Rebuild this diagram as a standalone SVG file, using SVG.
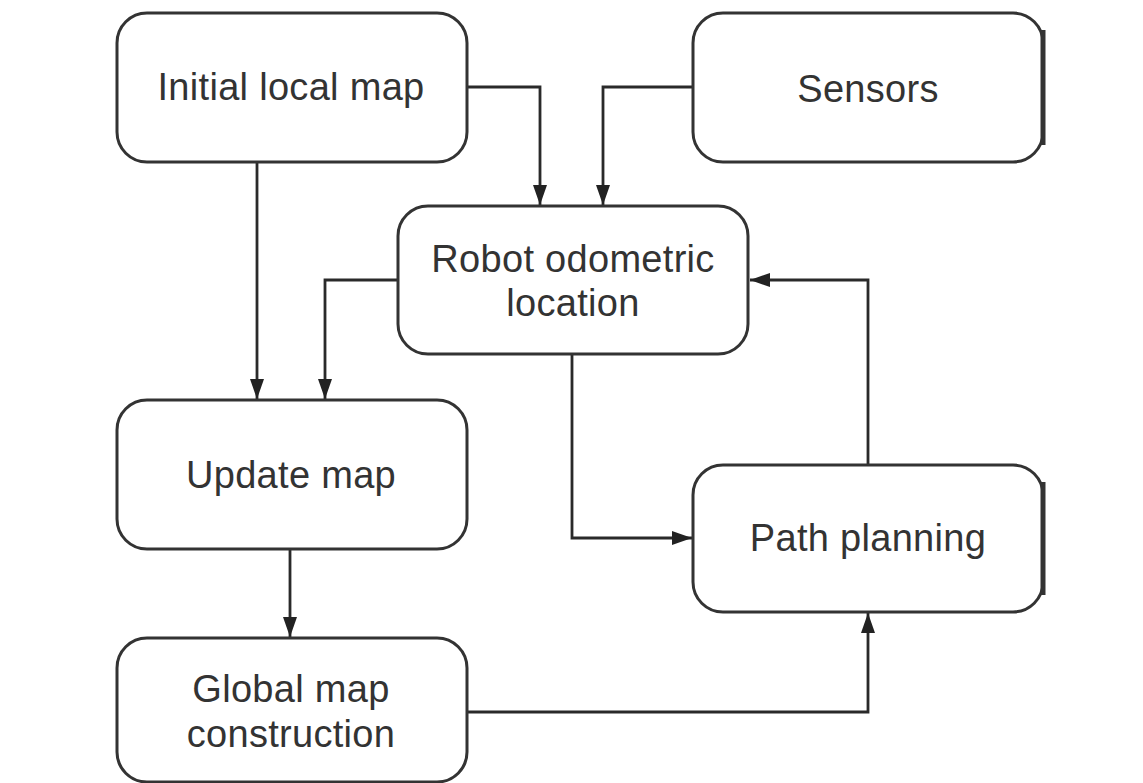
<svg xmlns="http://www.w3.org/2000/svg" width="1143" height="783" viewBox="0 0 1143 783">
<style>
.box{fill:#fff;stroke:#333;stroke-width:3}
.lbl{font-family:"Liberation Sans",Arial,sans-serif;font-size:38px;letter-spacing:0.3px;fill:#333;text-anchor:middle}
.con{fill:none;stroke:#2a2a2a;stroke-width:2.8}
</style>
<defs>
<marker id="arr" viewBox="0 0 20 14" refX="20" refY="7" markerWidth="20" markerHeight="14" markerUnits="userSpaceOnUse" orient="auto">
<path d="M0,0 L20,7 L0,14 z" fill="#222"/>
</marker>
</defs>
<rect width="1143" height="783" fill="#fff"/>
<g id="connectors">
<path class="con" d="M468,87 H540 V205" marker-end="url(#arr)"/>
<path class="con" d="M693,87 H603 V205" marker-end="url(#arr)"/>
<path class="con" d="M257,162 V399" marker-end="url(#arr)"/>
<path class="con" d="M398,280 H325 V399" marker-end="url(#arr)"/>
<path class="con" d="M572,354 V538 H692" marker-end="url(#arr)"/>
<path class="con" d="M868,465 V280 H750" marker-end="url(#arr)"/>
<path class="con" d="M290,549 V637" marker-end="url(#arr)"/>
<path class="con" d="M468,712 H868 V613" marker-end="url(#arr)"/>
</g>
<g id="initial-local-map">
<rect class="box" x="117" y="13" width="350" height="149" rx="30"/>
<text class="lbl" x="291" y="100">Initial local map</text>
</g>
<g id="sensors">
<rect class="box" x="693" y="13" width="350" height="149" rx="30"/>
<line x1="1043" y1="30" x2="1043" y2="145" stroke="#333" stroke-width="5"/>
<text class="lbl" x="868" y="102">Sensors</text>
</g>
<g id="robot-odometric-location">
<rect class="box" x="398" y="206" width="350" height="148" rx="30"/>
<text class="lbl" x="573" y="272">Robot odometric</text>
<text class="lbl" x="573" y="316">location</text>
</g>
<g id="update-map">
<rect class="box" x="117" y="400" width="350" height="149" rx="30"/>
<text class="lbl" x="291" y="488">Update map</text>
</g>
<g id="path-planning">
<rect class="box" x="693" y="465" width="350" height="147" rx="30"/>
<line x1="1043" y1="482" x2="1043" y2="595" stroke="#333" stroke-width="5"/>
<text class="lbl" x="868" y="551">Path planning</text>
</g>
<g id="global-map-construction">
<rect class="box" x="117" y="638" width="350" height="144" rx="30"/>
<text class="lbl" x="291" y="702">Global map</text>
<text class="lbl" x="291" y="747">construction</text>
</g>
</svg>
